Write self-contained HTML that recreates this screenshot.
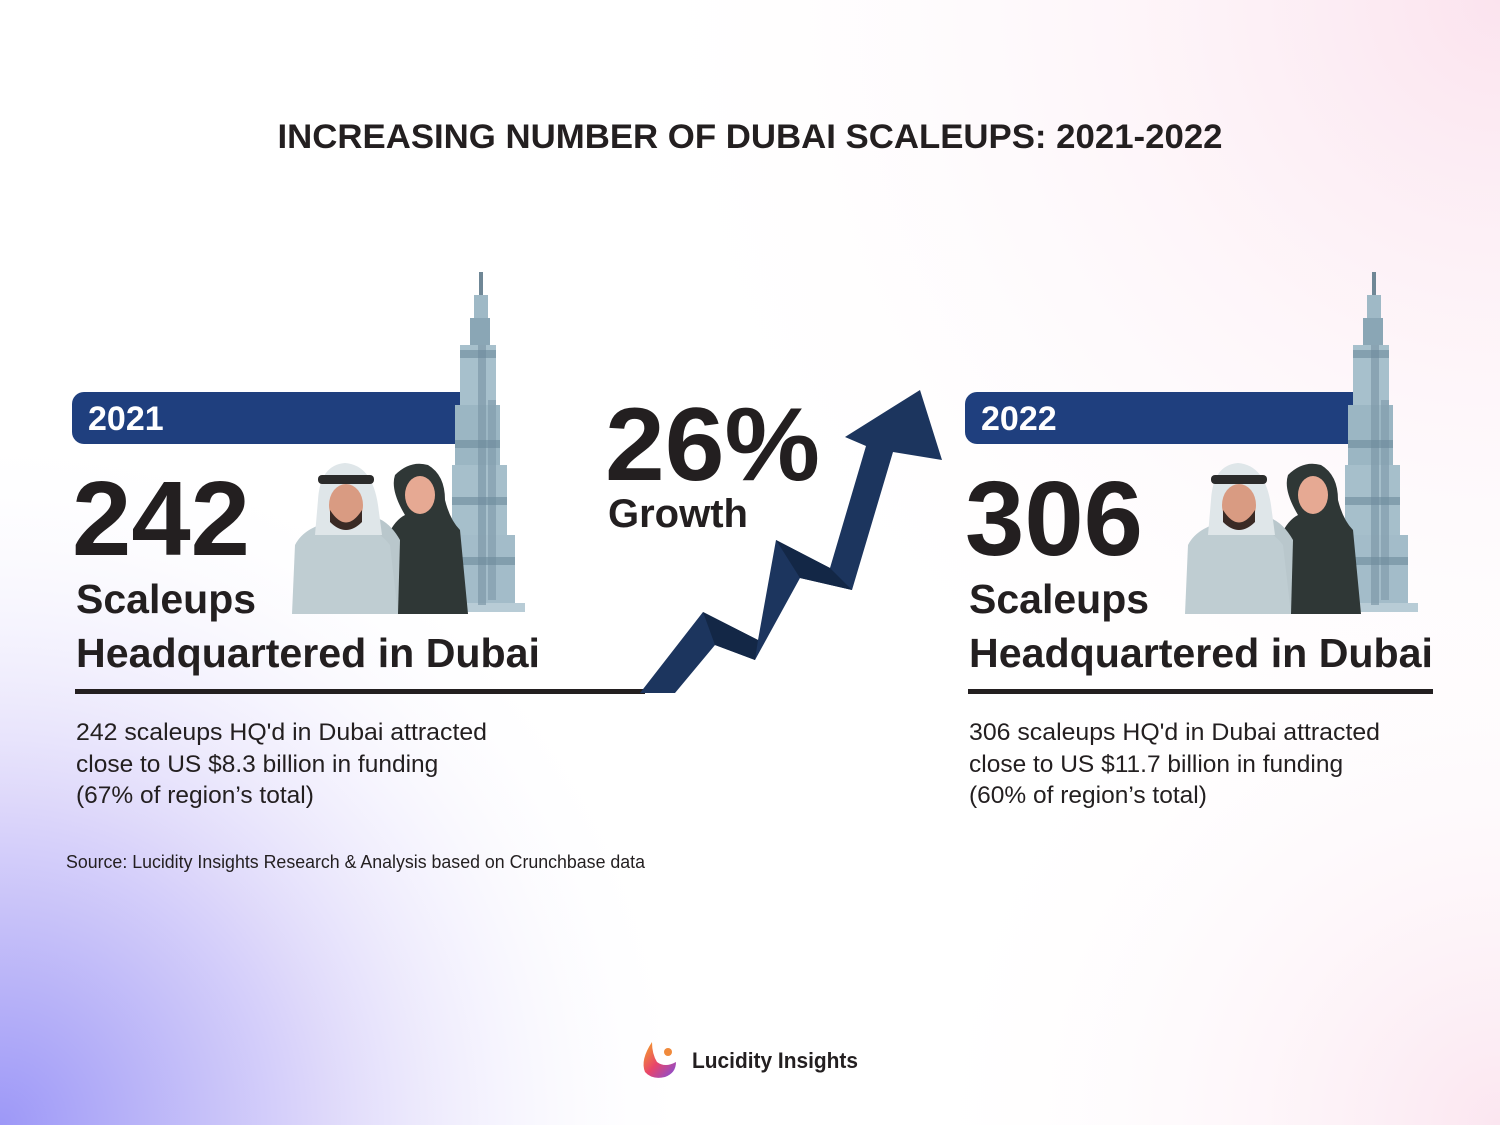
<!DOCTYPE html>
<html><head><meta charset="utf-8"><style>
html,body{margin:0;padding:0;width:1500px;height:1125px;overflow:hidden}
svg{display:block}
text{font-family:"Liberation Sans",sans-serif}
</style></head><body>
<svg width="1500" height="1125" viewBox="0 0 1500 1125" xmlns="http://www.w3.org/2000/svg">
<defs>
<radialGradient id="g1" cx="0" cy="1125" r="700" gradientUnits="userSpaceOnUse">
<stop offset="0" stop-color="#9d98f7"/><stop offset="0.45" stop-color="#dcd6fa"/><stop offset="1" stop-color="#ffffff" stop-opacity="0"/></radialGradient>
<radialGradient id="g2" cx="1500" cy="0" r="900" gradientUnits="userSpaceOnUse">
<stop offset="0" stop-color="#fbe3ee"/><stop offset="1" stop-color="#ffffff" stop-opacity="0"/></radialGradient>
<radialGradient id="g3" cx="1500" cy="1125" r="600" gradientUnits="userSpaceOnUse">
<stop offset="0" stop-color="#fbe6f0"/><stop offset="1" stop-color="#ffffff" stop-opacity="0"/></radialGradient>
<linearGradient id="lg" x1="0" y1="0" x2="1" y2="1"><stop offset="0" stop-color="#f5a623"/><stop offset="0.5" stop-color="#e8456b"/><stop offset="1" stop-color="#7b4fe0"/></linearGradient>
<g id="side">
<rect x="72" y="392" width="400" height="52" rx="12" fill="#1f3f7e"/>
<rect x="100" y="392" width="372" height="52" fill="#1f3f7e"/>
<g>
<rect x="479" y="272" width="4" height="25" fill="#6f8796"/>
<rect x="474" y="295" width="14" height="25" fill="#9fb9c6"/>
<rect x="470" y="318" width="20" height="30" fill="#8aa6b5"/>
<rect x="460" y="345" width="36" height="60" fill="#a7c0cc"/>
<rect x="455" y="405" width="45" height="60" fill="#9bb6c3"/>
<rect x="452" y="465" width="55" height="70" fill="#a6bfcb"/>
<rect x="445" y="535" width="70" height="70" fill="#a3bcc9"/>
<rect x="445" y="603" width="80" height="9" fill="#b8ccd6"/>
<rect x="478" y="345" width="8" height="260" fill="#7d98a8" opacity="0.7"/>
<rect x="488" y="400" width="8" height="200" fill="#7d98a8" opacity="0.6"/>
<rect x="460" y="350" width="36" height="8" fill="#6d8a9b" opacity="0.6"/>
<rect x="455" y="440" width="45" height="8" fill="#6d8a9b" opacity="0.6"/>
<rect x="452" y="497" width="55" height="8" fill="#6d8a9b" opacity="0.6"/>
<rect x="445" y="557" width="70" height="8" fill="#6d8a9b" opacity="0.6"/>
</g>
<path d="M385 614 L388 535 Q395 520 405 515 Q390 490 395 475 Q410 460 428 465 Q445 475 445 500 Q450 520 460 530 L468 614 Z" fill="#2f3736"/>
<ellipse cx="420" cy="495" rx="15" ry="19" fill="#e6a993"/>
<path d="M340 614 L345 520 Q380 505 400 540 L398 614 Z" fill="#b9c7cc"/>
<path d="M292 614 L295 545 Q305 525 340 520 Q375 525 390 545 L398 614 Z" fill="#bfcdd2"/>
<path d="M318 500 Q320 465 345 463 Q372 465 378 505 L382 535 L315 535 Z" fill="#dfe6e9"/>
<rect x="318" y="475" width="56" height="9" rx="4" fill="#2b2b2b"/>
<ellipse cx="346" cy="505" rx="17" ry="21" fill="#d99b82"/>
<path d="M330 510 Q346 535 362 510 L362 522 Q346 538 330 522 Z" fill="#3a2a25"/>
</g>
</defs>
<rect width="1500" height="1125" fill="#fff"/>
<rect width="1500" height="1125" fill="url(#g2)"/>
<rect width="1500" height="1125" fill="url(#g3)"/>
<rect width="1500" height="1125" fill="url(#g1)"/>

<text x="750" y="148" text-anchor="middle" font-size="34" font-weight="bold" fill="#231f20" textLength="945" lengthAdjust="spacingAndGlyphs">INCREASING NUMBER OF DUBAI SCALEUPS: 2021-2022</text>

<use href="#side"/>
<text x="88" y="430" font-size="34" font-weight="bold" fill="#fff">2021</text>
<text x="72" y="555" font-size="106" font-weight="bold" fill="#231f20" textLength="178" lengthAdjust="spacingAndGlyphs">242</text>
<text x="76" y="613" font-size="41" font-weight="bold" fill="#231f20">Scaleups</text>
<text x="76" y="667" font-size="41" font-weight="bold" fill="#231f20" textLength="464" lengthAdjust="spacingAndGlyphs">Headquartered in Dubai</text>
<rect x="75" y="689" width="570" height="5" fill="#231f20"/>
<text x="76" y="740" font-size="24.5" fill="#231f20" textLength="411" lengthAdjust="spacingAndGlyphs">242 scaleups HQ'd in Dubai attracted</text>
<text x="76" y="772" font-size="24.5" fill="#231f20">close to US $8.3 billion in funding</text>
<text x="76" y="803" font-size="24.5" fill="#231f20">(67% of region’s total)</text>
<text x="66" y="868" font-size="18" fill="#231f20" textLength="579" lengthAdjust="spacingAndGlyphs">Source: Lucidity Insights Research &amp; Analysis based on Crunchbase data</text>

<g transform="translate(893,0)">
<use href="#side"/>
<text x="88" y="430" font-size="34" font-weight="bold" fill="#fff">2022</text>
<text x="72" y="555" font-size="106" font-weight="bold" fill="#231f20" textLength="178" lengthAdjust="spacingAndGlyphs">306</text>
<text x="76" y="613" font-size="41" font-weight="bold" fill="#231f20">Scaleups</text>
<text x="76" y="667" font-size="41" font-weight="bold" fill="#231f20" textLength="464" lengthAdjust="spacingAndGlyphs">Headquartered in Dubai</text>
<rect x="75" y="689" width="465" height="5" fill="#231f20"/>
<text x="76" y="740" font-size="24.5" fill="#231f20" textLength="411" lengthAdjust="spacingAndGlyphs">306 scaleups HQ'd in Dubai attracted</text>
<text x="76" y="772" font-size="24.5" fill="#231f20">close to US $11.7 billion in funding</text>
<text x="76" y="803" font-size="24.5" fill="#231f20">(60% of region’s total)</text>
</g>

<polygon points="640,693 703,612 758,640 776,540 830,568 866,446 845,437 920,390 942,460 893,452 852,590 800,578 755,660 715,645 675,693" fill="#1c355e"/>
<polygon points="703,612 758,640 755,660 715,645" fill="#132746"/>
<polygon points="776,540 830,568 852,590 800,578" fill="#132746"/>

<text x="605" y="480" font-size="104" font-weight="bold" fill="#231f20" textLength="215" lengthAdjust="spacingAndGlyphs">26%</text>
<text x="608" y="527" font-size="40" font-weight="bold" fill="#231f20">Growth</text>

<path d="M652 1042 Q640 1060 645 1072 Q652 1080 665 1077 Q676 1073 676 1062 Q665 1068 657 1062 Q652 1054 652 1042 Z" fill="url(#lg)"/>
<circle cx="668" cy="1052" r="4" fill="#f08a3c"/>
<text x="692" y="1068" font-size="22" font-weight="bold" fill="#231f20" textLength="166" lengthAdjust="spacingAndGlyphs">Lucidity Insights</text>
</svg>
</body></html>
